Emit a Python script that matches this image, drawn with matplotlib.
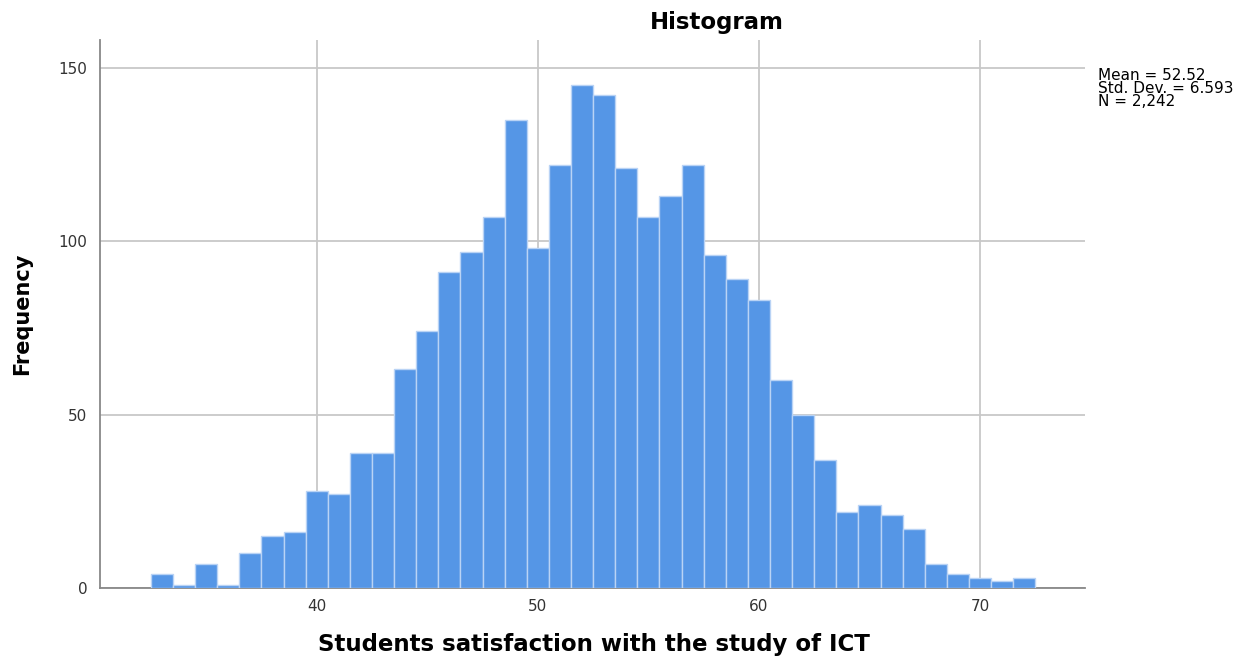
import matplotlib.pyplot as plt
import numpy as np

plt.rcParams['font.family'] = ['DejaVu Sans']

# bin centres (width 1) and counts
bin_centres = list(range(33, 73))
counts = [4, 1, 7, 1, 10, 15, 16, 28, 27, 39, 39, 63, 74, 91, 97, 107, 135, 98,
          122, 145, 142, 121, 107, 113, 122, 96, 89, 83, 60, 50, 37, 22, 24, 21,
          17, 7, 4, 3, 2, 3]
x_ticks = [40, 50, 60, 70]
y_ticks = [0, 50, 100, 150]
stats_text = "Mean = 52.52\nStd. Dev. = 6.593\nN = 2,242"

fig = plt.figure(figsize=(12.57, 6.62), dpi=100)
ax = fig.add_axes([0.0796, 0.1118, 0.7836, 0.8278])

ax.bar(bin_centres, counts, width=1.0, color='#5596E6',
       edgecolor='#B9D3F5', linewidth=1.0, zorder=3)

ax.set_xlim(30.2, 74.75)
ax.set_ylim(0, 158)
ax.set_xticks(x_ticks)
ax.set_yticks(y_ticks)
ax.grid(True, color='#C8C8C8', linewidth=1.3, zorder=0)
ax.tick_params(length=0, labelsize=11, colors='#333333')
ax.tick_params(axis='x', pad=8)
ax.tick_params(axis='y', pad=9)

for s in ['top', 'right']:
    ax.spines[s].set_visible(False)
for s in ['left', 'bottom']:
    ax.spines[s].set_color('#888888')
    ax.spines[s].set_linewidth(1.3)

fig.text(594 / 1257, 1 - 645 / 662, 'Students satisfaction with the study of ICT',
         ha='center', va='center', fontsize=16.5, fontweight='bold')
fig.text(22 / 1257, 1 - 314 / 662, 'Frequency', ha='center', va='center',
         rotation=90, fontsize=15, fontweight='bold')
fig.text(717 / 1257, 1 - 22 / 662, 'Histogram', ha='center', va='center',
         fontsize=16.5, fontweight='bold')
fig.text(1098 / 1257, 1 - 68 / 662, stats_text, ha='left', va='top',
         fontsize=11, linespacing=0.85)

fig.savefig('out.png', dpi=100)
